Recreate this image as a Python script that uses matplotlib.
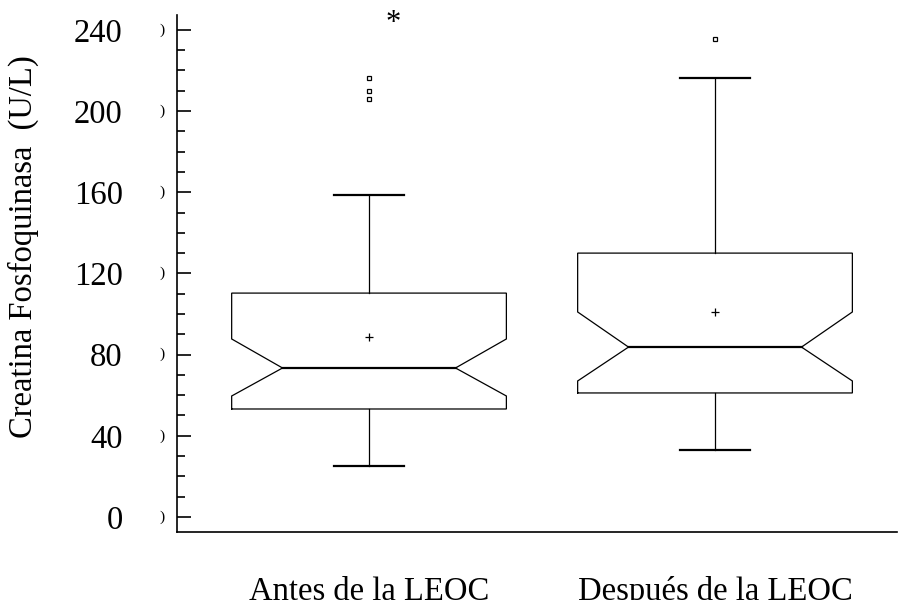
import matplotlib.pyplot as plt
from matplotlib.ticker import MultipleLocator
import matplotlib.transforms as mtransforms

plt.rcParams["font.family"] = ["Liberation Serif", "DejaVu Serif"]

# Summary statistics (U/L)
groups = ["Antes de la LEOC", "Después de la LEOC"]
positions = [1, 2]
q1 = [53.2, 61.1]
median = [73.4, 83.7]
q3 = [110.3, 130.0]
notch_lo = [59.6, 67.0]
notch_hi = [87.7, 101.0]
whisker_lo = [25.1, 33.0]
whisker_hi = [158.6, 216.3]
means = [88.7, 101.0]
outliers = [[216.3, 209.9, 205.9], [235.5]]
star_x, star_y = 1.07, 243.0

BOX_HALF = 0.397
WAIST_HALF = 0.25
CAP_HALF = 0.1

fig = plt.figure(figsize=(8.98, 6.0), dpi=100)
ax = fig.add_axes([177 / 898, 68 / 600, 720 / 898, 517 / 600])

for i, x in enumerate(positions):
    l, r = x - BOX_HALF, x + BOX_HALF
    wl, wr = x - WAIST_HALF, x + WAIST_HALF
    xs = [l, r, r, wr, r, r, l, l, wl, l, l]
    ys = [q1[i], q1[i], notch_lo[i], median[i], notch_hi[i], q3[i],
          q3[i], notch_hi[i], median[i], notch_lo[i], q1[i]]
    ax.plot(xs, ys, color="black", lw=0.9, solid_joinstyle="miter")
    ax.plot([wl, wr], [median[i], median[i]], color="black", lw=1.6)
    # whiskers and caps
    ax.plot([x, x], [q3[i], whisker_hi[i]], color="black", lw=0.9)
    ax.plot([x, x], [q1[i], whisker_lo[i]], color="black", lw=0.9)
    for w in (whisker_lo[i], whisker_hi[i]):
        ax.plot([x - CAP_HALF, x + CAP_HALF], [w, w], color="black", lw=1.6)
    ax.plot(x, means[i], marker="+", color="black", ms=6, mew=0.9)
    ax.plot([x] * len(outliers[i]), outliers[i], ls="none", marker="s",
            ms=3.5, mfc="white", mec="black", mew=0.9)

ax.text(star_x, star_y, "*", fontsize=22, ha="center", va="center")

ax.set_xlim(0.445, 2.526)
ax.set_ylim(-7.4, 247.3)
ax.set_xticks(positions)
ax.set_xticklabels(groups, fontsize=23.5)
ax.tick_params(axis="x", length=0, pad=32)
ax.set_yticks(range(0, 241, 40))
ax.yaxis.set_minor_locator(MultipleLocator(10))
ax.tick_params(axis="y", which="major", direction="in", length=10, width=1.2,
               labelsize=23.5, pad=39)
ax.tick_params(axis="y", which="minor", direction="in", length=6, width=1.2)

for side in ("top", "right"):
    ax.spines[side].set_visible(False)
for side in ("left", "bottom"):
    ax.spines[side].set_linewidth(1.2)

# faint bracket marks left of the axis, as in the original export
trans = mtransforms.blended_transform_factory(ax.transAxes, ax.transData)
for v in range(0, 241, 40):
    ax.text(-0.021, v, ")", transform=trans, fontsize=11, ha="center", va="center",
            color="black")

fig.text(23 / 898, 1 - 247 / 600, "Creatina Fosfoquinasa  (U/L)", rotation=90,
         ha="center", va="center", fontsize=23.5)

fig.savefig("out.png", dpi=100)
